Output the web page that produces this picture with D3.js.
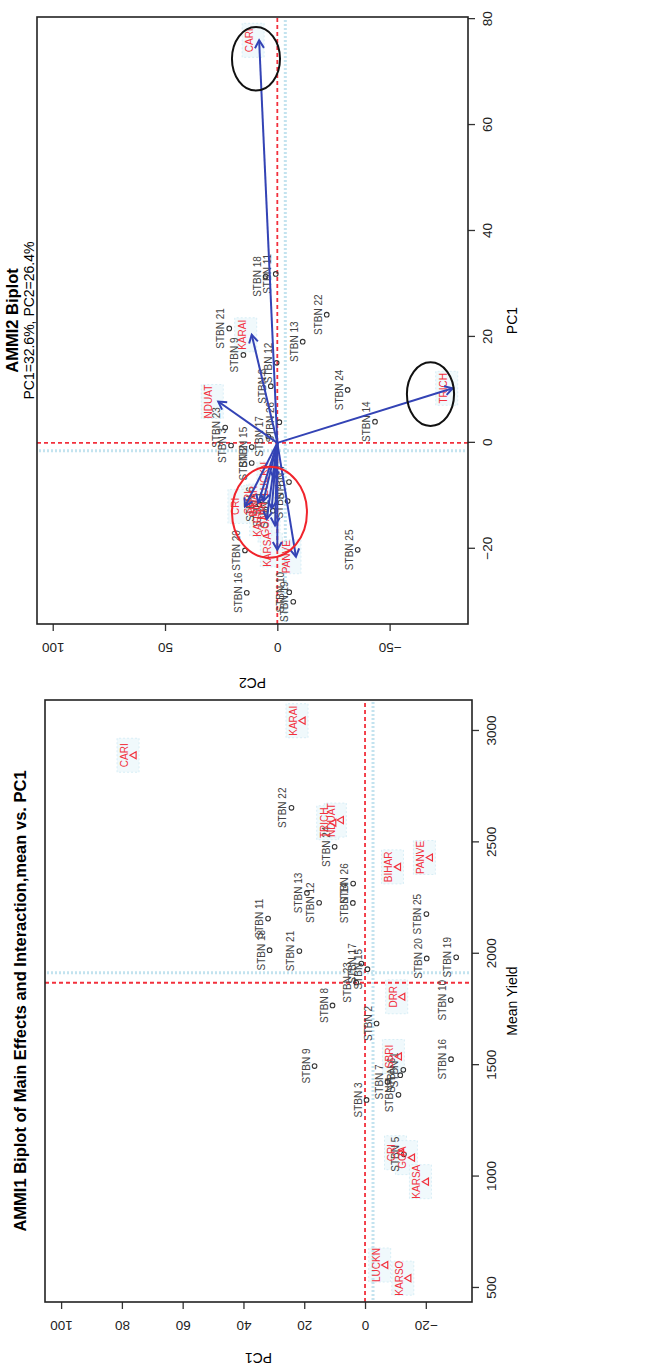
<!DOCTYPE html>
<html>
<head>
<meta charset="utf-8">
<script src="https://cdnjs.cloudflare.com/ajax/libs/d3/7.8.5/d3.min.js"></script>
<style>
  body { margin: 0; background: #fff; }
  text { font-family: Arial, "Liberation Sans", sans-serif; }
</style>
</head>
<body>
<div id="chart"></div>
<script>
// two AMMI biplots, drawn side by side as in R and then turned a quarter to the left

// genotypes
var genoNames = ["STBN 1", "STBN 2", "STBN 3", "STBN 4", "STBN 5", "STBN 6", "STBN 7", "STBN 8",
                 "STBN 9", "STBN 10", "STBN 11", "STBN 12", "STBN 13", "STBN 14", "STBN 15", "STBN 16",
                 "STBN 17", "STBN 18", "STBN 19", "STBN 20", "STBN 21", "STBN 22", "STBN 23", "STBN 24",
                 "STBN 25", "STBN 26"];
var genoYield = [1479, 1687, 1344, 1367, 1100, 1455, 1425, 1768, 1496, 1792, 2158, 2229, 2273, 2228,
                 1931, 1527, 1956, 2016, 1984, 1979, 2012, 2655, 1871, 2480, 2178, 2315];
var genoPC1 = [-12.6, -3.8, -0.5, -11.0, -12.8, -11.6, -7.4, 10.7, 16.6, -28.2, 31.9, 15.1, 19.1, 4.0,
               -0.8, -28.3, 1.2, 31.4, -30.0, -20.3, 21.6, 24.2, 2.9, 10.0, -20.2, 3.9];
var genoPC2 = [5.0, 11.4, 20.6, -4.6, 2.0, 8.0, -5.2, 2.9, 15.1, -5.3, 0.7, 0.3, -11.3, -43.5,
               11.4, 13.6, 4.0, 5.2, -7.1, 14.4, 21.4, -22.0, 23.2, -31.3, -35.8, -0.9];

// environments
var envNames = ["CARI", "KARAI", "TRICH", "NDUAT", "BIHAR", "PANVE", "DRR", "SBRI", "CRI", "GOA",
                "KARSA", "KARSO", "LUCKN"];
var envYield = [2891, 3046, 2588, 2600, 2390, 2432, 1807, 1539, 1107, 1085, 977, 544, 603];
var envPC1 = [76.0, 20.4, 10.3, 7.8, -11.0, -21.5, -12.4, -11.3, -12.0, -15.6, -20.2, -14.4, -6.8];
var envPC2 = [8.1, 11.4, -78.1, 26.3, 6.2, -8.3, 2.5, 8.5, 14.4, 1.0, 0.0, 4.7, 1.5];

var grandMean = 1870;

// ticks
var yieldTicks = [500, 1000, 1500, 2000, 2500, 3000];
var pc1TicksA = [-20, 0, 20, 40, 60, 80, 100];
var pc1TicksB = [-20, 0, 20, 40, 60, 80];
var pc2TicksB = [-50, 0, 50, 100];

// circles someone drew on the AMMI2 plot (centre PC1, PC2 and radii, in data units)
var ringPC1 = [72.5, 9.2, -13.1];
var ringPC2 = [9.5, -68.2, 3.5];
var ringR1 = [6.0, 6.0, 8.6];
var ringR2 = [10.7, 10.5, 16.7];
var ringColor = ["#111", "#111", "#f0242c"];

var W = 1367, H = 662;
var red = "#f2303c", blue = "#3343b5", ghost = "#c3e3ef";

var svg = d3.select("#chart").append("svg")
    .attr("width", H)
    .attr("height", W);

var fig = svg.append("g")
    .attr("transform", "translate(0," + W + ") rotate(-90)");

// panel boxes
var boxA = { x0: 65, x1: 667, y0: 45, y1: 472 };
var boxB = { x0: 743, x1: 1350, y0: 37, y1: 468 };

var xA = d3.scaleLinear().domain([437, 3139]).range([boxA.x0, boxA.x1]);
var yA = d3.scaleLinear().domain([-35.2, 105.3]).range([boxA.y1, boxA.y0]);
var xB = d3.scaleLinear().domain([-34.2, 80.4]).range([boxB.x0, boxB.x1]);
var yB = d3.scaleLinear().domain([-84.9, 107]).range([boxB.y1, boxB.y0]);

function axes(g, box, x, y, xt, yt) {
    var bottom = g.append("g")
        .attr("transform", "translate(0," + box.y1 + ")")
        .call(d3.axisBottom(x).tickValues(xt).tickSize(7).tickPadding(7).tickFormat(d3.format("d")));
    bottom.select(".domain").remove();
    bottom.selectAll("text").style("font-size", "13.5px").attr("fill", "#222");
    bottom.selectAll("line").attr("stroke", "#333").attr("stroke-width", 1.3);

    var left = g.append("g")
        .attr("transform", "translate(" + box.x0 + ",0)")
        .call(d3.axisLeft(y).tickValues(yt).tickSize(7).tickFormat(d3.format("d")));
    left.select(".domain").remove();
    left.selectAll("line").attr("stroke", "#333").attr("stroke-width", 1.3);
    // R writes these labels along the axis
    left.selectAll("text")
        .attr("x", 0).attr("dy", null)
        .attr("text-anchor", "middle")
        .attr("transform", "translate(-19,0) rotate(-90)")
        .style("font-size", "13.5px").attr("fill", "#222");

    g.append("rect")
        .attr("x", box.x0).attr("y", box.y0)
        .attr("width", box.x1 - box.x0).attr("height", box.y1 - box.y0)
        .attr("fill", "none").attr("stroke", "#222").attr("stroke-width", 1.6);
}

function refLines(g, box, xv, yv, gx, gy) {
    // faint blue shadows left by the scan
    g.append("line").attr("x1", xv + gx).attr("x2", xv + gx).attr("y1", box.y0 + 2).attr("y2", box.y1 - 2)
        .attr("stroke", ghost).attr("stroke-width", 3).attr("stroke-dasharray", "2,2");
    g.append("line").attr("x1", box.x0 + 2).attr("x2", box.x1 - 2).attr("y1", yv + gy).attr("y2", yv + gy)
        .attr("stroke", ghost).attr("stroke-width", 3).attr("stroke-dasharray", "2,2");

    g.append("line").attr("x1", xv).attr("x2", xv).attr("y1", box.y0).attr("y2", box.y1)
        .attr("stroke", red).attr("stroke-width", 1.8).attr("stroke-dasharray", "4,3");
    g.append("line").attr("x1", box.x0).attr("x2", box.x1).attr("y1", yv).attr("y2", yv)
        .attr("stroke", red).attr("stroke-width", 1.8).attr("stroke-dasharray", "4,3");
}

// light blue smudge the scan left round each red label
function smudge(g, x, y) {
    g.append("rect").attr("x", x - 17).attr("y", y - 17).attr("width", 34).attr("height", 22)
        .attr("fill", "#f0f9fc").attr("stroke", "#d8eef6").attr("stroke-dasharray", "2,2");
}

var tri = d3.symbol().type(d3.symbolTriangle).size(22);

// ---------- AMMI1: mean vs PC1 ----------
var gA = fig.append("g");
envNames.forEach(function(d, i) { smudge(gA, xA(envYield[i]), yA(envPC1[i])); });
refLines(gA, boxA, xA(grandMean), yA(0), 10, 8);

var genoA = gA.selectAll(".genoA").data(genoNames).enter().append("g")
    .attr("transform", function(d, i) { return "translate(" + xA(genoYield[i]) + "," + yA(genoPC1[i]) + ")"; });
genoA.append("circle").attr("r", 2.3).attr("fill", "none").attr("stroke", "#333").attr("stroke-width", 1.1);
genoA.append("text").attr("y", -5).attr("text-anchor", "middle")
    .style("font-size", "10px").attr("fill", "#444").text(function(d) { return d; });

var envA = gA.selectAll(".envA").data(envNames).enter().append("g")
    .attr("transform", function(d, i) { return "translate(" + xA(envYield[i]) + "," + yA(envPC1[i]) + ")"; });
envA.append("path").attr("d", tri).attr("fill", "none").attr("stroke", red).attr("stroke-width", 1.2);
envA.append("text").attr("y", -6).attr("text-anchor", "middle")
    .style("font-size", "10px").attr("fill", red).text(function(d) { return d; });

axes(gA, boxA, xA, yA, yieldTicks, pc1TicksA);

gA.append("text").attr("x", (boxA.x0 + boxA.x1) / 2).attr("y", 26).attr("text-anchor", "middle")
    .style("font-size", "16.5px").style("font-weight", "bold")
    .text("AMMI1 Biplot of Main Effects and Interaction,mean vs. PC1");
gA.append("text").attr("x", (boxA.x0 + boxA.x1) / 2).attr("y", 517).attr("text-anchor", "middle")
    .style("font-size", "14px").text("Mean Yield");
gA.append("text").attr("transform", "translate(14," + (boxA.y0 + boxA.y1) / 2 + ") rotate(-90)")
    .attr("text-anchor", "middle").style("font-size", "14px").text("PC1");

// ---------- AMMI2: PC1 vs PC2 ----------
var gB = fig.append("g");
envNames.forEach(function(d, i) { smudge(gB, xB(envPC1[i]), yB(envPC2[i])); });
refLines(gB, boxB, xB(0), yB(0), -8, 8);

var genoB = gB.selectAll(".genoB").data(genoNames).enter().append("g")
    .attr("transform", function(d, i) { return "translate(" + xB(genoPC1[i]) + "," + yB(genoPC2[i]) + ")"; });
genoB.append("circle").attr("r", 2.3).attr("fill", "none").attr("stroke", "#333").attr("stroke-width", 1.1);
genoB.append("text").attr("y", -5).attr("text-anchor", "middle")
    .style("font-size", "10px").attr("fill", "#444").text(function(d) { return d; });

gB.selectAll(".envLab").data(envNames).enter().append("text")
    .attr("x", function(d, i) { return xB(envPC1[i]); })
    .attr("y", function(d, i) { return yB(envPC2[i]) - 6; })
    .attr("text-anchor", "middle")
    .style("font-size", "10px").attr("fill", red).text(function(d) { return d; });

// arrows from the origin to each environment
var ox = xB(0), oy = yB(0);
envNames.forEach(function(d, i) {
    var tx = xB(envPC1[i]), ty = yB(envPC2[i]);
    var a = Math.atan2(ty - oy, tx - ox), L = 9, s = Math.PI / 6;
    var head = "M" + (tx - L * Math.cos(a - s)) + "," + (ty - L * Math.sin(a - s)) +
               "L" + tx + "," + ty +
               "L" + (tx - L * Math.cos(a + s)) + "," + (ty - L * Math.sin(a + s));
    gB.append("line").attr("x1", ox).attr("y1", oy).attr("x2", tx).attr("y2", ty)
        .attr("stroke", blue).attr("stroke-width", 2);
    gB.append("path").attr("d", head).attr("fill", "none")
        .attr("stroke", blue).attr("stroke-width", 2);
});

gB.selectAll(".ring").data(ringPC1).enter().append("ellipse")
    .attr("cx", function(d) { return xB(d); })
    .attr("cy", function(d, i) { return yB(ringPC2[i]); })
    .attr("rx", function(d, i) { return xB(ringR1[i]) - xB(0); })
    .attr("ry", function(d, i) { return yB(0) - yB(ringR2[i]); })
    .attr("fill", "none")
    .attr("stroke", function(d, i) { return ringColor[i]; })
    .attr("stroke-width", 2);

axes(gB, boxB, xB, yB, pc1TicksB, pc2TicksB);

gB.append("text").attr("x", (boxB.x0 + boxB.x1) / 2).attr("y", 18).attr("text-anchor", "middle")
    .style("font-size", "16.5px").style("font-weight", "bold").text("AMMI2 Biplot");
gB.append("text").attr("x", (boxB.x0 + boxB.x1) / 2).attr("y", 34).attr("text-anchor", "middle")
    .style("font-size", "14px").text("PC1=32.6%, PC2=26.4%");
gB.append("text").attr("x", (boxB.x0 + boxB.x1) / 2).attr("y", 517).attr("text-anchor", "middle")
    .style("font-size", "14px").text("PC1");
gB.append("text").attr("transform", "translate(689," + (boxB.y0 + boxB.y1) / 2 + ") rotate(-90)")
    .attr("text-anchor", "middle").style("font-size", "14px").text("PC2");
</script>
</body>
</html>
